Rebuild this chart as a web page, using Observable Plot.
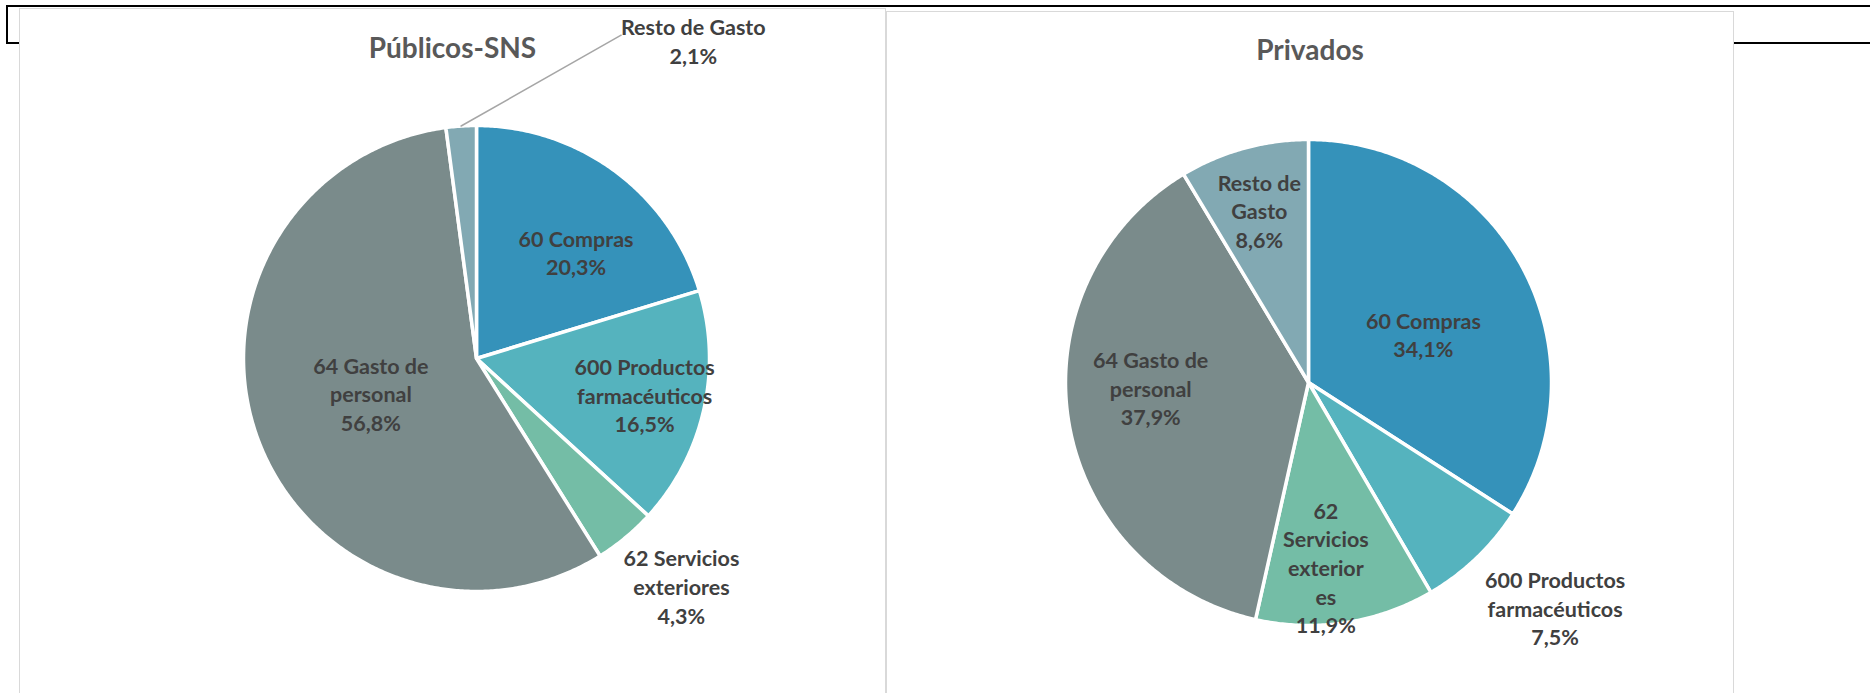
<!DOCTYPE html>
<html><head><meta charset="utf-8">
<script src="https://cdn.jsdelivr.net/npm/d3@7"></script>
<script src="https://cdn.jsdelivr.net/npm/@observablehq/plot@0.6"></script>
<style>
body{margin:0;background:#fff;}
#root{position:relative;width:1870px;height:693px;overflow:hidden;background:#fff;font-family:Lato,sans-serif;}
.bl{position:absolute;background:#000;}
.panel{position:absolute;border:1.5px solid #D9D9D9;box-sizing:border-box;}
.plot{position:absolute;}
</style></head><body>
<div id="root">
 <div class="bl" style="left:6px;top:5px;width:1864px;height:2px"></div>
 <div class="bl" style="left:6px;top:5px;width:2px;height:39px"></div>
 <div class="bl" style="left:6px;top:42px;width:13px;height:2px"></div>
 <div class="bl" style="left:1733px;top:42px;width:137px;height:2px"></div>
 <div class="panel" style="left:19px;top:8px;width:867px;height:700px"></div>
 <div class="panel" style="left:886px;top:11px;width:848px;height:700px"></div>
 <div class="plot" id="p1" style="left:19px;top:8px"></div>
 <div class="plot" id="p2" style="left:886px;top:11px"></div>
</div>
<script>
// ---- data ----
const categories = ["60 Compras", "600 Productos farmacéuticos", "62 Servicios exteriores", "64 Gasto de personal", "Resto de Gasto"];
const colors = ["#3592BA", "#55B3BE", "#74BDA6", "#7A8B8B", "#82A9B3"];
const publicosValues = [20.3, 16.5, 4.3, 56.8, 2.1];
const privadosValues = [34.1, 7.5, 11.9, 37.9, 8.6];
const publicosNames = ["60 Compras", "600 Productos\nfarmacéuticos", "62 Servicios\nexteriores", "64 Gasto de\npersonal", "Resto de Gasto"];
const privadosNames = ["60 Compras", "600 Productos\nfarmacéuticos", "62\nServicios\nexterior\nes", "64 Gasto de\npersonal", "Resto de\nGasto"];
const titles = ["Públicos-SNS", "Privados"];

// ---- layout (not data) ----
const layouts = [
  {el: "#p1", W: 866, H: 685, cx: 457, cy: 350, r: 233, titleDy: 41,
   nudge: [7, 0, -2, 0.6, 38.2], rf: [0.62, 0.74, 1.32, 0.48, 1.646],
   leader: 4, leaderEnd: [24.1, 1.52]},
  {el: "#p2", W: 847, H: 682, cx: 422, cy: 371, r: 243, titleDy: 40,
   nudge: [6.6, -3.6, 3.5, 6.6, -0.6], rf: [0.51, 1.38, 0.77, 0.65, 0.73],
   leader: -1}
];

const rad = d => d * Math.PI / 180;
const fmt = v => v.toFixed(1).replace(".", ",") + "%";

function drawPie(values, names, title, L) {
  const total = d3.sum(values);
  const poly = [];
  const labels = [];
  let cum = 0;
  values.forEach((v, i) => {
    const a0 = cum / total * 2 * Math.PI;
    const a1 = (cum + v) / total * 2 * Math.PI;
    cum += v;
    const n = Math.max(2, Math.ceil((a1 - a0) / rad(0.5)));
    poly.push({cat: categories[i], x: 0, y: 0});
    for (let k = 0; k <= n; k++) {
      const a = a0 + (a1 - a0) * k / n;
      poly.push({cat: categories[i], x: Math.sin(a), y: Math.cos(a)});
    }
    poly.push({cat: categories[i], x: 0, y: 0});
    const mid = (a0 + a1) / 2 + rad(L.nudge[i]);
    labels.push({text: names[i] + "\n" + fmt(v), x: L.rf[i] * Math.sin(mid), y: L.rf[i] * Math.cos(mid), mid: (a0 + a1) / 2});
  });
  const leader = [];
  if (L.leader >= 0) {
    const m = labels[L.leader].mid;
    const e = rad(L.leaderEnd[0]);
    leader.push({x: Math.sin(m), y: Math.cos(m)}, {x: L.leaderEnd[1] * Math.sin(e), y: L.leaderEnd[1] * Math.cos(e)});
  }
  const p = Plot.plot({
    width: L.W, height: L.H, margin: 0,
    x: {domain: [-L.cx / L.r, (L.W - L.cx) / L.r], axis: null},
    y: {domain: [-(L.H - L.cy) / L.r, L.cy / L.r], axis: null},
    color: {domain: categories, range: colors},
    style: {background: "transparent", overflow: "visible", fontFamily: "Lato, sans-serif"},
    marks: [
      Plot.line(poly, {x: "x", y: "y", z: "cat", fill: "cat", stroke: "white", strokeWidth: 3.5, strokeLinejoin: "round"}),
      Plot.line(leader, {x: "x", y: "y", stroke: "#A6A6A6", strokeWidth: 1.5}),
      Plot.text(labels, {x: "x", y: "y", dy: -2, text: "text", fontSize: 21.5, fontWeight: "bold", fill: "#404040", lineHeight: 1.33, textAnchor: "middle", lineAnchor: "middle"}),
      Plot.text([title], {frameAnchor: "top", dy: L.titleDy, text: d => d, fontSize: 28, fontWeight: "bold", fill: "#595959", lineAnchor: "middle"})
    ]
  });
  document.querySelector(L.el).appendChild(p);
}
drawPie(publicosValues, publicosNames, titles[0], layouts[0]);
drawPie(privadosValues, privadosNames, titles[1], layouts[1]);
</script>
</body></html>
